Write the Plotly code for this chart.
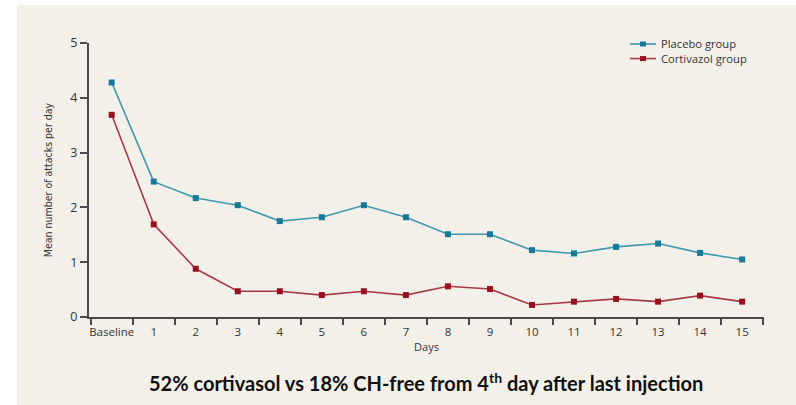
import plotly.graph_objects as go

# Mean number of attacks per day, by group
days = ["Baseline", "1", "2", "3", "4", "5", "6", "7", "8", "9", "10", "11", "12", "13", "14", "15"]
placebo = [4.28, 2.47, 2.17, 2.04, 1.75, 1.82, 2.04, 1.82, 1.51, 1.51, 1.22, 1.16, 1.28, 1.34, 1.17, 1.05]
cortivazol = [3.69, 1.69, 0.88, 0.47, 0.47, 0.40, 0.47, 0.40, 0.56, 0.51, 0.22, 0.28, 0.33, 0.28, 0.39, 0.28]
y_ticks = [0, 1, 2, 3, 4, 5]
series_names = ["Placebo group", "Cortivazol group"]

BG = "#f3f0ea"
AXIS = "#4a4a4a"
TEXT = "#333333"
LINE_COLORS = ["#3f97ae", "#a83a44"]
MARKER_COLORS = ["#17799a", "#990f1f"]

W, H = 796, 405
ML, MR, MT, MB = 89, 32, 43, 88
PW, PH = W - ML - MR, H - MT - MB


def px_to_paper_x(px):
    return (px - ML) / PW


def px_to_paper_y(py):
    return (H - MB - py) / PH


fig = go.Figure()

for name, vals, lc, mc in zip(series_names, [placebo, cortivazol], LINE_COLORS, MARKER_COLORS):
    fig.add_trace(go.Scatter(
        x=days, y=vals, name=name, mode="lines+markers",
        line=dict(color=lc, width=1.6),
        marker=dict(symbol="square", size=6, color=mc),
        cliponaxis=False, showlegend=False,
    ))

# compact legend: line samples with square markers, labels in one text block
LEG_FONT = 11.2
ROW_GAP = LEG_FONT * 1.3
LEG_TOP = 44
for i, (lc, mc) in enumerate(zip(LINE_COLORS, MARKER_COLORS)):
    row_y = LEG_TOP + i * ROW_GAP
    fig.add_shape(type="line", xref="paper", yref="paper",
                  x0=px_to_paper_x(630), x1=px_to_paper_x(656),
                  y0=px_to_paper_y(row_y), y1=px_to_paper_y(row_y),
                  line=dict(color=lc, width=1.6))
    fig.add_shape(type="rect", xref="paper", yref="paper",
                  x0=px_to_paper_x(640), x1=px_to_paper_x(646),
                  y0=px_to_paper_y(row_y + 2.5), y1=px_to_paper_y(row_y - 2.5),
                  fillcolor=mc, line=dict(width=0))
fig.add_annotation(text="<br>".join(series_names), xref="paper", yref="paper",
                   x=px_to_paper_x(660), y=px_to_paper_y(LEG_TOP + ROW_GAP / 2),
                   xanchor="left", yanchor="middle", align="left", showarrow=False,
                   font=dict(size=LEG_FONT, color=TEXT), borderpad=0)

# white strips framing the slide background
fig.add_shape(type="rect", xref="paper", yref="paper", layer="below",
              x0=px_to_paper_x(-2), x1=px_to_paper_x(17),
              y0=px_to_paper_y(H + 2), y1=px_to_paper_y(-2),
              fillcolor="white", line=dict(width=0))
fig.add_shape(type="rect", xref="paper", yref="paper", layer="below",
              x0=px_to_paper_x(-2), x1=px_to_paper_x(W + 2),
              y0=px_to_paper_y(5), y1=px_to_paper_y(-2),
              fillcolor="white", line=dict(width=0))

fig.add_annotation(
    text="<b>52% cortivasol vs 18% CH-free from 4<sup>th</sup> day after last injection</b>",
    xref="paper", yref="paper",
    x=px_to_paper_x(426), y=px_to_paper_y(382),
    xanchor="center", yanchor="middle", showarrow=False,
    font=dict(family="Lato, 'Open Sans', sans-serif", size=20, color="#111111"),
)

fig.update_layout(
    width=W, height=H,
    margin=dict(l=ML, r=MR, t=MT, b=MB, pad=0),
    paper_bgcolor=BG, plot_bgcolor=BG,
    font=dict(family="'Open Sans', Lato, sans-serif", size=11, color=TEXT),
    showlegend=False,
    xaxis=dict(
        type="category", range=[-0.54, 15.52],
        showgrid=False, zeroline=False,
        showline=True, linecolor=AXIS, linewidth=2,
        ticks="outside", tickson="boundaries", ticklen=6, tickwidth=1.5, tickcolor=AXIS,
        tickangle=0, ticklabelstandoff=3,
        tickfont=dict(size=11.5, color=TEXT),
        title=dict(text="Days", font=dict(size=11, color=TEXT), standoff=6),
    ),
    yaxis=dict(
        range=[0, 5], tickvals=y_ticks,
        showgrid=False, zeroline=False,
        showline=True, linecolor=AXIS, linewidth=2,
        ticks="outside", ticklen=7, tickwidth=1.5, tickcolor=AXIS,
        tickfont=dict(size=12.5, color=TEXT),
        title=dict(text="Mean number of attacks per day",
                   font=dict(family="'Liberation Sans Narrow', 'DejaVu Sans Condensed', sans-serif",
                             size=10.5, color=TEXT),
                   standoff=16),
    ),
)

fig.write_html("out.html")
